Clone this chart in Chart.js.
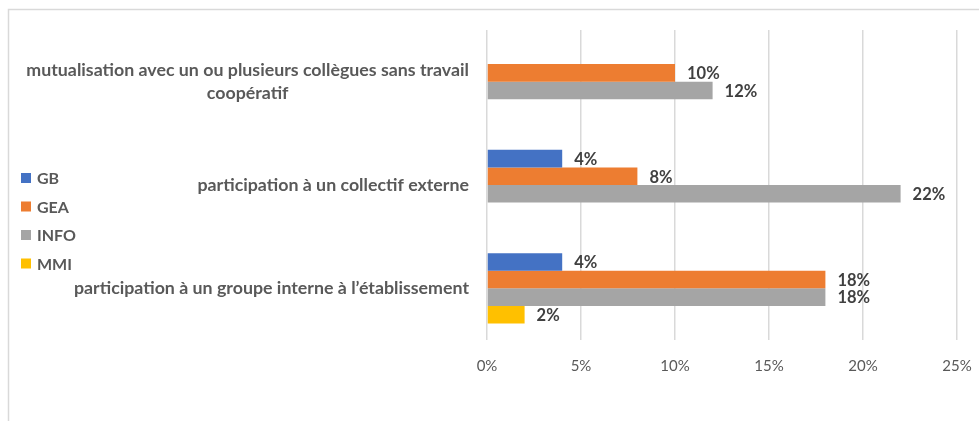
<!DOCTYPE html>
<html>
<head>
<meta charset="utf-8">
<script src="https://cdn.jsdelivr.net/npm/chart.js@4/dist/chart.umd.min.js"></script>
<style>
html,body{margin:0;padding:0;background:#fff;}
canvas{display:block;}
</style>
</head>
<body>
<canvas id="c" width="979" height="421"></canvas>
<script>
const categories = [
  ['mutualisation avec un ou plusieurs collègues sans travail', 'coopératif'],
  ['participation à un collectif externe'],
  ['participation à un groupe interne à l’établissement']
];
const seriesNames = ['GB', 'GEA', 'INFO', 'MMI'];
const gbValues   = [null, 4, 4];
const geaValues  = [10, 8, 18];
const infoValues = [12, 22, 18];
const mmiValues  = [null, null, 2];
const xTicks = [0, 5, 10, 15, 20, 25];
const colors = ['#4472C4', '#ED7D31', '#A5A5A5', '#FFC000'];

const FONT = 'Lato';
const labelColor = '#595959';

const framePlugin = {
  id: 'frame',
  beforeDraw(chart) {
    const ctx = chart.ctx;
    ctx.save();
    ctx.strokeStyle = '#d9d9d9';
    ctx.lineWidth = 1.5;
    ctx.beginPath();
    ctx.moveTo(8.5, 421);
    ctx.lineTo(8.5, 9.5);
    ctx.lineTo(979, 9.5);
    ctx.stroke();
    ctx.restore();
  }
};

const catLabelPlugin = {
  id: 'catLabels',
  afterDraw(chart) {
    const ctx = chart.ctx;
    const y = chart.scales.y;
    const right = 469;
    ctx.save();
    ctx.font = 'bold 17.8px ' + FONT;
    ctx.fillStyle = labelColor;
    ctx.textBaseline = 'middle';
    ctx.textAlign = 'center';
    const lh = 23;
    chart.data.labels.forEach((lines, i) => {
      const cy = y.getPixelForValue(i);
      const widest = Math.max(...lines.map(l => ctx.measureText(l).width));
      const cx = right - widest / 2;
      const y0 = cy - (lines.length - 1) * lh / 2;
      lines.forEach((l, k) => ctx.fillText(l, cx, y0 + k * lh));
    });
    ctx.restore();
  }
};

const legendPlugin = {
  id: 'sideLegend',
  afterDraw(chart) {
    const ctx = chart.ctx;
    ctx.save();
    ctx.font = 'bold 16px ' + FONT;
    ctx.textBaseline = 'middle';
    ctx.textAlign = 'left';
    chart.data.datasets.forEach((ds, i) => {
      const cy = 178 + i * 28.5;
      ctx.fillStyle = ds.backgroundColor;
      ctx.fillRect(21, cy - 5, 10, 10);
      ctx.fillStyle = labelColor;
      ctx.fillText(ds.label, 37, cy + 1);
    });
    ctx.restore();
  }
};

const dataLabelPlugin = {
  id: 'dataLabels',
  afterDatasetsDraw(chart) {
    const ctx = chart.ctx;
    ctx.save();
    ctx.font = 'bold 16.5px ' + FONT;
    ctx.fillStyle = '#404040';
    ctx.textBaseline = 'middle';
    ctx.textAlign = 'left';
    chart.data.datasets.forEach((ds, di) => {
      const meta = chart.getDatasetMeta(di);
      meta.data.forEach((el, i) => {
        const v = ds.data[i];
        if (v === null || v === undefined) return;
        ctx.fillText(v + '%', el.x + 12, el.y + 1);
      });
    });
    ctx.restore();
  }
};

const valueLists = [gbValues, geaValues, infoValues, mmiValues];

new Chart(document.getElementById('c'), {
  type: 'bar',
  data: {
    labels: categories,
    datasets: seriesNames.map((n, i) => ({
      label: n,
      data: valueLists[i],
      backgroundColor: colors[i],
      borderWidth: 0,
      barPercentage: 1,
      categoryPercentage: 0.68
    }))
  },
  options: {
    indexAxis: 'y',
    responsive: false,
    animation: false,
    devicePixelRatio: 1,
    layout: { padding: { left: 487, right: 22, top: 30, bottom: 29 } },
    plugins: { legend: { display: false }, tooltip: { enabled: false } },
    scales: {
      x: {
        min: 0, max: 25,
        afterBuildTicks(scale) { scale.ticks = xTicks.map(v => ({ value: v })); },
        afterFit(scale) { scale.paddingLeft = 0; scale.paddingRight = 0; },
        grid: { color: '#d9d9d9', lineWidth: 1.5, drawTicks: false },
        border: { display: false },
        ticks: {
          padding: 17,
          color: labelColor,
          font: { family: FONT, size: 15 },
          callback: v => v + '%'
        }
      },
      y: {
        grid: { display: false, drawTicks: false },
        border: { display: false },
        ticks: { display: false }
      }
    }
  },
  plugins: [framePlugin, catLabelPlugin, legendPlugin, dataLabelPlugin]
});
</script>
</body>
</html>
